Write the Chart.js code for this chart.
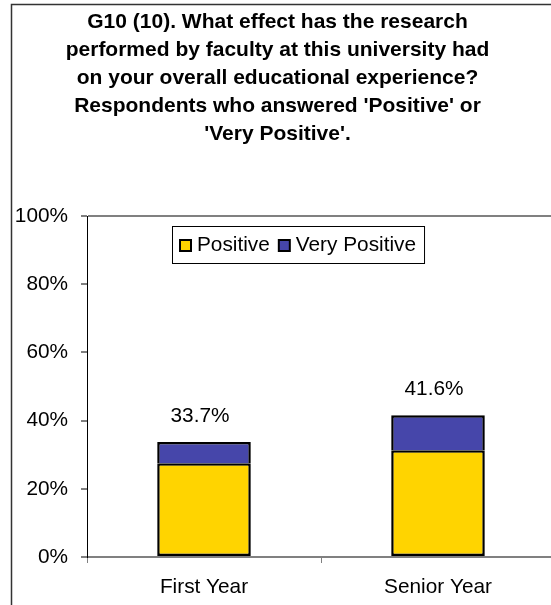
<!DOCTYPE html>
<html>
<head>
<meta charset="utf-8">
<script src="https://cdn.jsdelivr.net/npm/chart.js@4.4.1/dist/chart.umd.min.js"></script>
<style>
  html, body { margin: 0; padding: 0; background: #fff; overflow: hidden; }
  #wrap { width: 555px; height: 605px; }
</style>
</head>
<body>
<div id="wrap"><canvas id="myChart" width="555" height="605"></canvas></div>
<script>
// chart data
let categories = ['First Year', 'Senior Year'];
let positive = [27.5, 31.3];
let veryPositive = [6.2, 10.3];
let yTicks = [0, 20, 40, 60, 80, 100];
let titleLines = [
    'G10 (10). What effect has the research',
    'performed by faculty at this university had',
    'on your overall educational experience?',
    "Respondents who answered 'Positive' or",
    "'Very Positive'."
];

let FONT = '"Liberation Sans", Arial, sans-serif';

// white background + outer frame
let framePlugin = {
    id: 'frame',
    beforeDraw(chart) {
        let c = chart.ctx;
        c.save();
        c.fillStyle = '#fff';
        c.fillRect(0, 0, chart.width, chart.height);
        c.strokeStyle = '#333';
        c.lineWidth = 1.5;
        c.beginPath();
        c.moveTo(11.5, chart.height);
        c.lineTo(11.5, 4.5);
        c.lineTo(chart.width, 4.5);
        c.stroke();
        c.restore();
    }
};

// total labels above each stack
let totalsPlugin = {
    id: 'totals',
    afterDatasetsDraw(chart) {
        let c = chart.ctx;
        let top = chart.getDatasetMeta(1);
        c.save();
        c.font = '20.8px ' + FONT;
        c.fillStyle = '#000';
        c.textAlign = 'center';
        c.textBaseline = 'middle';
        categories.forEach((cat, i) => {
            let bar = top.data[i];
            let total = positive[i] + veryPositive[i];
            c.fillText(total.toFixed(1) + '%', bar.x - 4, bar.y - 26);
        });
        c.restore();
    }
};

// boxed legend inside the plot area
let legendPlugin = {
    id: 'boxLegend',
    afterDraw(chart) {
        let c = chart.ctx;
        let area = chart.chartArea;
        let x0 = area.left + 85, y0 = area.top + 10;
        let h = 37, pad = 8, mk = 11, gap = 6, itemGap = 9;
        c.save();
        c.font = '20.8px ' + FONT;
        let items = chart.data.datasets.map(d => ({ label: d.label, color: d.backgroundColor }));
        let w = pad * 2;
        items.forEach((it, i) => {
            w += mk + gap + c.measureText(it.label).width;
            if (i > 0) w += itemGap;
        });
        c.fillStyle = '#fff';
        c.fillRect(x0, y0, w, h);
        c.strokeStyle = '#000';
        c.lineWidth = 1;
        c.strokeRect(x0 + 0.5, y0 + 0.5, w, h);
        let x = x0 + pad;
        let cy = y0 + h / 2 + 1;
        items.forEach((it) => {
            c.fillStyle = it.color;
            c.fillRect(x, cy - mk / 2, mk, mk);
            c.lineWidth = 2;
            c.strokeStyle = '#000';
            c.strokeRect(x, cy - mk / 2, mk, mk);
            x += mk + gap;
            c.fillStyle = '#000';
            c.textBaseline = 'middle';
            c.fillText(it.label, x, cy);
            x += c.measureText(it.label).width + itemGap;
        });
        c.restore();
    }
};

let ctx = document.getElementById('myChart').getContext('2d');
let chart = new Chart(ctx, {
    type: 'bar',
    data: {
        labels: categories,
        datasets: [{
            label: 'Positive',
            data: positive,
            backgroundColor: '#FFD400',
            borderColor: '#000',
            borderWidth: 2.5,
            borderSkipped: false
        }, {
            label: 'Very Positive',
            data: veryPositive,
            backgroundColor: '#4646AA',
            borderColor: '#000',
            borderWidth: 2.5,
            borderSkipped: 'start'
        }]
    },
    options: {
        responsive: false,
        animation: false,
        events: [],
        layout: { padding: 0 },
        datasets: {
            bar: { categoryPercentage: 1, barPercentage: 0.4 }
        },
        plugins: {
            legend: { display: false },
            tooltip: { enabled: false },
            title: {
                display: true,
                text: titleLines,
                color: '#000',
                font: { family: FONT, size: 21, weight: 'bold', lineHeight: '28px' },
                padding: { top: 8, bottom: 68 }
            }
        },
        scales: {
            x: {
                stacked: true,
                afterFit(scale) { scale.height = 48; },
                border: { color: '#808080', width: 2 },
                grid: {
                    drawOnChartArea: false,
                    tickColor: '#808080',
                    tickLength: 6,
                    offset: true
                },
                ticks: {
                    color: '#000',
                    font: { family: FONT, size: 20.8 },
                    padding: 12,
                    maxRotation: 0
                }
            },
            y: {
                stacked: true,
                min: 0,
                max: 100,
                afterFit(scale) { scale.width = 87; },
                afterBuildTicks(scale) { scale.ticks = yTicks.map(v => ({ value: v })); },
                border: { color: '#000', width: 1 },
                grid: {
                    color: (c) => c.tick && c.tick.value === 100 ? '#808080' : 'rgba(0,0,0,0)',
                    lineWidth: 2,
                    tickColor: '#000',
                    tickLength: 6,
                    tickWidth: 1
                },
                ticks: {
                    color: '#000',
                    font: { family: FONT, size: 20.8 },
                    padding: 13,
                    callback: (v) => v + '%'
                }
            }
        }
    },
    plugins: [framePlugin, totalsPlugin, legendPlugin]
});
</script>
</body>
</html>
